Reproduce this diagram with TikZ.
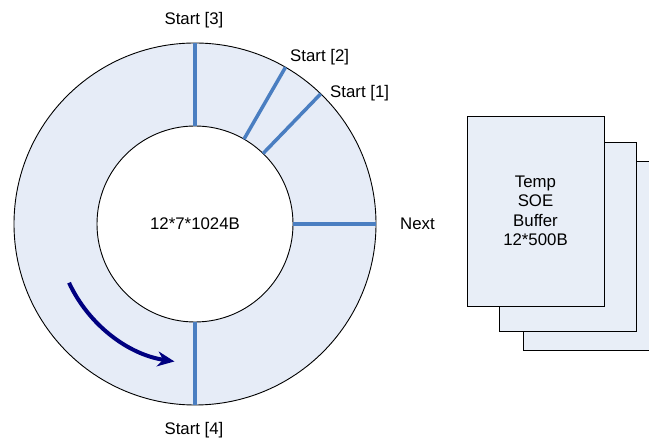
\documentclass[tikz,border=0pt]{standalone}
\usepackage{fontspec}
\setmainfont{Liberation Sans}
\usetikzlibrary{arrows.meta,calc}
\definecolor{ringfill}{HTML}{E6ECF7}
\definecolor{spoke}{HTML}{4A7EC1}
\definecolor{navy}{HTML}{000080}
\definecolor{buf}{HTML}{E8EEF7}
\tikzset{
  lbl/.style={font=\fontsize{16.8}{19.5}\selectfont, inner sep=0pt},
  spokeline/.style={draw=spoke, line width=3.5pt},
  bufbox/.style={draw=black, fill=buf, line width=0.9pt},
}
\begin{document}
\begin{tikzpicture}[x=1pt,y=1pt]
\useasboundingbox (0,0) rectangle (649,439);
\fill[white] (0,0) rectangle (649,439);
\coordinate (C) at (195,215);
% ring
\fill[ringfill, even odd rule] (C) circle[radius=181] (C) circle[radius=98];
\draw[line width=0.9pt] (C) circle[radius=181];
\draw[line width=0.9pt] (C) circle[radius=98];
% spoke end points
\foreach \n/\a in {s3/90, s2/60, s1/46, nx/0, s4/270}{
  \coordinate (\n i) at ($(C)+(\a:98)$);
  \coordinate (\n o) at ($(C)+(\a:181)$);
}
\foreach \n in {s3,s2,s1,nx,s4}{
  \draw[spokeline] (\n i) -- (\n o);
}
% labels
\node[lbl] (l3) at (194,419) {Start [3]};
\node[lbl, anchor=west] (l2) at (290,382) {Start [2]};
\node[lbl, anchor=west] (l1) at (330,346) {Start [1]};
\node[lbl, anchor=west] (lnx) at (400,215) {Next};
\node[lbl] (l4) at (194,9) {Start [4]};
\node[lbl] (ctr) at (C) {12*7*1024B};
% arrow
\coordinate (a0) at ($(C)+(205:139)$);
\draw[navy, line width=4pt, -{Stealth[length=17pt,width=15pt]}] (a0) arc[start angle=205, end angle=261.5, radius=139];
% buffers
\begin{scope}
\clip (0,0) rectangle (649,439);
\node[bufbox, minimum width=137, minimum height=189, inner sep=0pt] (b3) at (591.5,183) {};
\node[bufbox, minimum width=137, minimum height=189, inner sep=0pt] (b2) at (567.5,202.5) {};
\node[bufbox, minimum width=137, minimum height=190, inner sep=0pt, align=center, lbl] (b1) at (535.5,228) {Temp\\SOE\\Buffer\\12*500B};
\end{scope}
\end{tikzpicture}
\end{document}
